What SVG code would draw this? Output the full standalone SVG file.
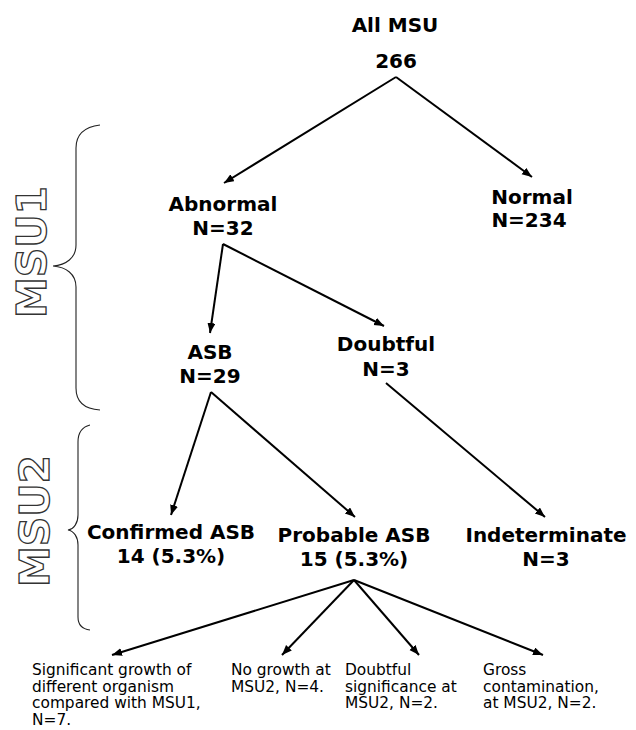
<svg xmlns="http://www.w3.org/2000/svg" width="636" height="730" viewBox="0 0 636 730">
<defs>
<marker id="ah" markerUnits="userSpaceOnUse" markerWidth="11" markerHeight="9" refX="10" refY="4" orient="auto">
<path d="M0,0 L10,4 L0,8 z" fill="#000"/>
</marker>
<style>
.n{font-family:"DejaVu Sans",Verdana,sans-serif;font-weight:bold;font-size:20px;fill:#000;text-anchor:middle}
.s{font-family:"DejaVu Sans",Verdana,sans-serif;font-size:15.4px;fill:#000}
.big{font-family:"DejaVu Sans",Verdana,sans-serif;font-weight:bold;font-size:41px;fill:#fff;stroke:#333;stroke-width:1.3;text-anchor:middle}
.br{fill:none;stroke:#222;stroke-width:1.1}
#conn line{stroke:#000;stroke-width:2;marker-end:url(#ah)}
</style>
</defs>
<rect width="636" height="730" fill="#fff"/>

<g id="brace1"><path class="br" d="M100,125 C84,127 76,134 76,148 L76,245 C76,258 66,265 53,266 C66,267 76,274 76,287 L76,388 C76,402 84,409 100,410"/></g>
<g id="brace2"><path class="br" d="M90,425 C82,427 78,433 78,442 L78,515 C78,523 74,529 68,530 C74,531 78,537 78,545 L78,617 C78,625 82,629 90,630"/></g>
<g id="label-msu1"><text class="big" transform="translate(46,252) rotate(-90)">MSU1</text></g>
<g id="label-msu2"><text class="big" transform="translate(49,521) rotate(-90)">MSU2</text></g>

<g id="conn">
<line x1="396" y1="77" x2="224" y2="183"/>
<line x1="396" y1="77" x2="532" y2="177"/>
<line x1="223" y1="244" x2="210" y2="333"/>
<line x1="223" y1="244" x2="384" y2="326"/>
<line x1="386" y1="383" x2="545" y2="517"/>
<line x1="211" y1="392" x2="171" y2="515"/>
<line x1="211" y1="392" x2="355" y2="517"/>
<line x1="354" y1="580" x2="112" y2="655"/>
<line x1="354" y1="580" x2="282" y2="655"/>
<line x1="354" y1="580" x2="419" y2="655"/>
<line x1="354" y1="580" x2="543" y2="655"/>
</g>

<g id="all"><text class="n" x="395" y="32">All MSU</text><text class="n" x="396" y="68">266</text></g>
<g id="abnormal"><text class="n" x="223" y="211">Abnormal</text><text class="n" x="223" y="235">N=32</text></g>
<g id="normal"><text class="n" x="532" y="204">Normal</text><text class="n" x="529" y="227">N=234</text></g>
<g id="asb"><text class="n" x="210" y="359">ASB</text><text class="n" x="210" y="383">N=29</text></g>
<g id="doubtful"><text class="n" x="386" y="351">Doubtful</text><text class="n" x="386" y="376">N=3</text></g>
<g id="confirmed"><text class="n" x="171" y="539">Confirmed ASB</text><text class="n" x="171" y="563">14 (5.3%)</text></g>
<g id="probable"><text class="n" x="354" y="542">Probable ASB</text><text class="n" x="354" y="566">15 (5.3%)</text></g>
<g id="indeterminate"><text class="n" x="546" y="542">Indeterminate</text><text class="n" x="546" y="566">N=3</text></g>

<g id="sig"><text class="s" x="32" y="675">Significant growth of<tspan x="32" dy="16.6">different organism</tspan><tspan x="32" dy="16.6">compared with MSU1,</tspan><tspan x="32" dy="16.6">N=7.</tspan></text></g>
<g id="nogrowth"><text class="s" x="231" y="675">No growth at<tspan x="231" dy="16.6">MSU2, N=4.</tspan></text></g>
<g id="doubtsig"><text class="s" x="345" y="675">Doubtful<tspan x="345" dy="16.6">significance at</tspan><tspan x="345" dy="16.6">MSU2, N=2.</tspan></text></g>
<g id="gross"><text class="s" x="483" y="675">Gross<tspan x="483" dy="16.6">contamination,</tspan><tspan x="483" dy="16.6">at MSU2, N=2.</tspan></text></g>
</svg>
